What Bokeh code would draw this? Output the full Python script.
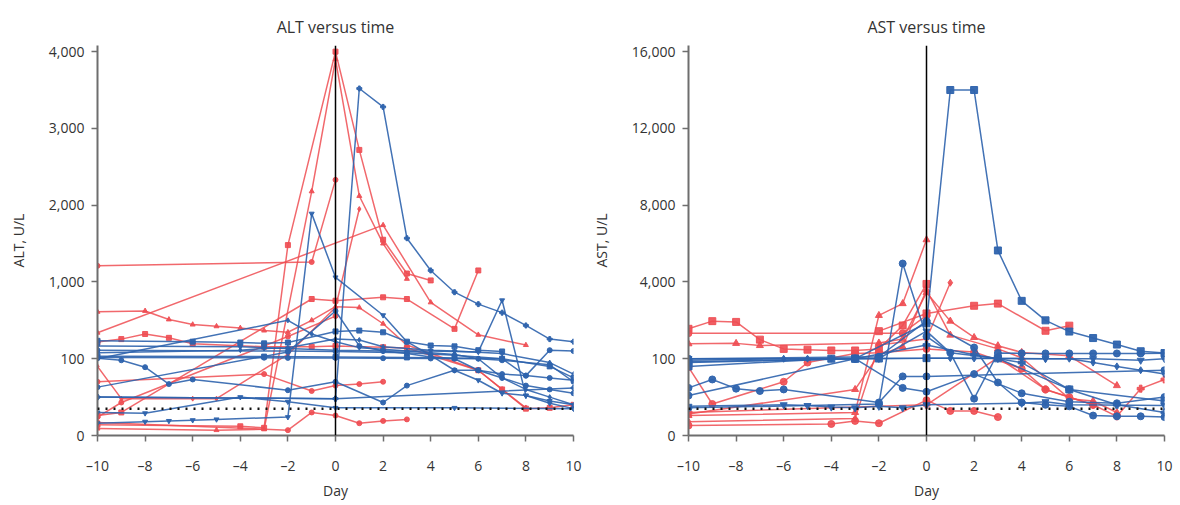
import numpy as np
from bokeh.plotting import figure
from bokeh.layouts import row
from bokeh.models import FixedTicker, Span
from bokeh.embed import file_html
from bokeh.resources import INLINE

# ---------------- data ----------------
DAY_TICKS = [-10, -8, -6, -4, -2, 0, 2, 4, 6, 8, 10]
DAY_LABELS = ["–10", "–8", "–6", "–4", "–2", "0", "2", "4", "6", "8", "10"]

ALT_TICKS = [0, 100, 1000, 2000, 3000, 4000]
ALT_LABELS = ["0", "100", "1,000", "2,000", "3,000", "4,000"]
AST_TICKS = [0, 100, 4000, 8000, 12000, 16000]
AST_LABELS = ["0", "100", "4,000", "8,000", "12,000", "16,000"]

# broken axis: value breakpoints and the axis segment index they sit on
ALT_BREAKS = [0, 100, 1000, 4000]
AST_BREAKS = [0, 100, 4000, 16000]
BREAK_POS = [0, 1, 2, 5]

ALT_ULN = 35
AST_ULN = 35

ALT_RED_DAYS = [
    [-10, -1, 0],
    [-10, -4, -3, -2, 0, 1, 2, 3, 4],
    [-10, -5, -3, -1, 0, 1, 2, 3],
    [-10, -9, -6, -5, -2, 0, 1],
    [-10, 2, 4, 6, 8],
    [-10, -8, -7, -6, -5, -4, -3, -2, -1, 0, 1, 2, 3, 6, 7, 8],
    [-10, -9, -8, -7, -6, -3, -1, 0, 2, 3, 6, 7, 8, 9, 10],
    [-10, -2, -1, 0, 1, 2, 3],
    [-10, -3, -1, 0, 1, 2],
    [-10, -9, -1, 0, 2, 3, 5, 6],
    [-10, -9, -2, 0],
]
ALT_RED_VALUES = [
    [1210, 1260, 2330],
    [14, 12, 10, 1480, 4030, 2720, 1550, 1110, 1020],
    [9, 7, 8, 2180, 3900, 2120, 1500, 1040],
    [90, 48, 48, 48, 150, 700, 1950],
    [405, 1740, 760, 380, 260],
    [650, 660, 560, 500, 480, 460, 430, 410, 550, 710, 700, 510, 260, 85, 60, 36],
    [296, 330, 390, 345, 276, 240, 240, 250, 235, 225, 85, 60, 35, 36, 40],
    [17, 7, 30, 26, 16, 19, 21],
    [70, 80, 58, 65, 67, 70],
    [26, 30, 800, 780, 820, 800, 450, 1150],
    [24, 43, 360, 600],
]

ALT_BLUE_DAYS = [
    [-10, 0, 1, 2, 3, 4, 5, 6, 7, 8, 9, 10],
    [-10, -8, -7, -6, -5, -2, -1, 0, 2, 3, 4, 5, 6, 7, 8, 9, 10],
    [-10, -2, 0, 1, 2, 3, 4, 5, 6, 7, 8, 9, 10],
    [-10, -6, -4, -3, -2, 0, 1, 2, 3, 4, 5, 6, 7],
    [-10, -4, -3, -2, 0, 2, 4, 5, 6, 7, 8, 9, 10],
    [-10, -2, 0, 3, 5, 7, 8, 9, 10],
    [-10, -2, -1, 0, 1, 2, 3, 4, 5, 6, 7, 8, 9, 10],
    [-10, -9, -8, -7, -6, -2, 0, 2, 3, 5, 6, 7, 8, 9, 10],
    [-10, -8, -4, -2, 0, 5, 10],
    [-10, 0, 10],
    [-10, -3, 0, 3, 5, 7, 9, 10],
    [-10, -3, -2, 0, 2, 4, 6, 7, 9, 10],
    [-10, -4, -3, -2, 0, 1, 2, 4, 5, 7, 9, 10],
]
ALT_BLUE_VALUES = [
    [50, 48, 3520, 3280, 1570, 1150, 880, 740, 640, 490, 330, 300],
    [16, 18, 19, 20, 21, 24, 1890, 1060, 610, 300, 140, 85, 72, 55, 52, 42, 35],
    [63, 180, 660, 250, 190, 160, 120, 100, 85, 75, 65, 60, 55],
    [310, 300, 290, 280, 290, 420, 430, 410, 300, 255, 245, 200, 185],
    [250, 240, 230, 220, 200, 190, 190, 185, 180, 785, 52, 45, 40],
    [200, 190, 185, 170, 140, 100, 78, 200, 190],
    [100, 550, 390, 300, 230, 210, 190, 170, 150, 100, 75, 60, 50, 40],
    [105, 98, 89, 67, 73, 59, 70, 43, 65, 85, 85, 80, 78, 75, 72],
    [30, 29, 50, 44, 36, 36, 35],
    [50, 48, 62],
    [130, 125, 120, 115, 110, 100, 90, 75],
    [115, 112, 110, 110, 106, 103, 100, 98, 92, 70],
    [170, 200, 220, 230, 330, 320, 240, 200, 190, 160, 95, 80],
]

AST_RED_DAYS = [
    [-10, -9, -8, -7, -6, -5, -4, -3, -2, -1, 0],
    [-10, -1, 0],
    [-10, -8, -7, -2, -1, 0, 1, 2, 3, 4, 6, 8],
    [-10, -3, -2, -1, 0],
    [-10, -4, -3, -2, 0, 1, 2, 3],
    [-10, -3, -2, 0, 1],
    [-10, -9, -6, -5, -3, -2, 0, 2, 4, 5, 6, 7],
    [-10, 0, 3, 5, 7, 8, 9, 10],
    [-2, 0, 2, 3, 5, 6],
    [-10, -3, -2, -1, 0, 1, 3, 4, 6, 7, 8],
]
AST_RED_VALUES = [
    [1620, 2010, 1970, 1070, 600, 560, 520, 520, 600, 1790, 3900],
    [1400, 1400, 2300],
    [860, 880, 770, 900, 1100, 3460, 2010, 1180, 760, 420, 250, 65],
    [26, 30, 2300, 2900, 6200],
    [13, 15, 19, 16, 46, 32, 32, 24],
    [18, 22, 800, 1100, 3960],
    [89, 41, 70, 95, 370, 400, 600, 440, 87, 60, 50, 40],
    [30, 40, 160, 60, 40, 25, 61, 73],
    [1500, 2400, 2790, 2900, 1520, 1780],
    [28, 60, 300, 700, 3600, 1300, 600, 150, 48, 45, 30],
]

AST_BLUE_DAYS = [
    [-10, -3, 0, 1, 2, 3, 4, 5, 6, 7, 8, 9, 10],
    [-10, -2, -1, 0, 1, 2, 3, 4, 5, 6, 7, 8, 9, 10],
    [-10, -2, 0, 2, 3, 4, 5, 6, 7, 8, 9, 10],
    [-10, -9, -8, -7, -6, -2, -1, 0, 10],
    [-10, -6, -5, -4, -3, -2, 0, 1, 2, 3, 4, 5, 6, 7, 8, 9, 10],
    [-10, -6, -5, -4, -3, -2, -1, 0, 4, 5, 6, 10],
    [-10, -3, -1, 0, 2, 4, 6, 8, 10],
    [-10, -4, -3, -2, 0, 3, 6, 10],
    [-10, -3, -2, 0, 1, 3, 5, 7, 9, 10],
    [-10, -3, 0, 2, 4, 6, 8, 10],
]
AST_BLUE_VALUES = [
    [95, 105, 1900, 14000, 14000, 5640, 3040, 2050, 1480, 1150, 820, 480, 390],
    [36, 41, 4960, 1230, 400, 48, 390, 375, 370, 370, 370, 370, 370, 375],
    [100, 200, 2020, 670, 69, 43, 40, 38, 26, 25, 25, 24],
    [62, 73, 61, 58, 60, 43, 77, 77, 85],
    [98, 100, 103, 105, 108, 110, 120, 130, 115, 110, 105, 103, 100, 95, 90, 85, 80],
    [38, 40, 39, 37, 36, 38, 36, 40, 42, 44, 40, 39],
    [52, 100, 62, 57, 80, 55, 44, 42, 50],
    [90, 100, 105, 110, 130, 120, 60, 45],
    [102, 108, 112, 1500, 400, 110, 105, 100, 98, 100],
    [96, 104, 800, 300, 95, 60, 40, 30],
]

# ---------------- style ----------------
RED = "#ee4d52"
BLUE = "#2e63ad"
ALT_RED_MARKERS = ["circle", "square", "triangle", "diamond", "triangle", "triangle",
                   "square", "circle", "circle", "square", "circle"]
ALT_BLUE_MARKERS = ["plus", "inverted_triangle", "circle", "square", "inverted_triangle", "circle",
                    "diamond", "circle", "inverted_triangle", "plus", "square", "circle", "diamond"]
AST_RED_MARKERS = ["square", "circle", "triangle", "triangle", "circle", "diamond",
                   "circle", "plus", "square", "triangle"]
AST_BLUE_MARKERS = ["square", "circle", "circle", "circle", "diamond", "inverted_triangle",
                    "circle", "square", "inverted_triangle", "plus"]
FONT = "Open Sans"
TXT = "#333333"


def make_panel(title, ylabel, ticks, labels, breaks, uln,
               red_d, red_v, red_m, blue_d, blue_v, blue_m, left_border, right_border, msize):
    def tf(v):
        return np.interp(np.asarray(v, dtype=float), breaks, BREAK_POS)

    p = figure(frame_width=476, frame_height=390, x_range=(-10, 10), y_range=(0, 5.08),
               output_backend="svg", toolbar_location=None,
               min_border_left=left_border, min_border_right=right_border,
               min_border_top=45, min_border_bottom=68)
    p.outline_line_color = None
    p.xgrid.visible = False
    p.ygrid.visible = False
    p.background_fill_color = "white"

    p.title.text = title
    p.title.align = "center"
    p.title.text_font = FONT
    p.title.text_font_size = "16px"
    p.title.text_font_style = "normal"
    p.title.text_color = TXT
    p.title.standoff = 16
    p.title.text_line_height = 1.0

    for d, v, m in zip(red_d, red_v, red_m):
        y = tf(v)
        p.line(d, y, line_color=RED, line_width=1.5, line_alpha=0.85)
        p.scatter(d, y, marker=m, size=msize, fill_color=RED, line_color=RED, alpha=0.9)
    for d, v, m in zip(blue_d, blue_v, blue_m):
        y = tf(v)
        p.line(d, y, line_color=BLUE, line_width=1.5, line_alpha=0.9)
        p.scatter(d, y, marker=m, size=msize, fill_color=BLUE, line_color=BLUE, alpha=0.95)

    p.add_layout(Span(location=0, dimension="height", line_color="black", line_width=1.5))
    p.add_layout(Span(location=float(tf(uln)), dimension="width", line_color="#111111",
                      line_width=2.5, line_dash="2 6"))

    pos = [int(round(float(t))) for t in tf(ticks)]
    p.yaxis.ticker = FixedTicker(ticks=pos)
    p.yaxis.major_label_overrides = {q: l for q, l in zip(pos, labels)}
    p.xaxis.ticker = FixedTicker(ticks=DAY_TICKS)
    p.xaxis.major_label_overrides = {t: l for t, l in zip(DAY_TICKS, DAY_LABELS)}
    p.xaxis.axis_label = "Day"
    p.yaxis.axis_label = ylabel

    for ax in (p.xaxis[0], p.yaxis[0]):
        ax.axis_line_color = "#6e6e6e"
        ax.axis_line_width = 2
        ax.major_tick_line_color = "#6e6e6e"
        ax.major_tick_line_width = 1.5
        ax.major_tick_out = 6
        ax.major_tick_in = 0
        ax.minor_tick_line_color = None
        ax.major_label_text_font = FONT
        ax.major_label_text_font_size = "14px"
        ax.major_label_text_color = TXT
        ax.axis_label_text_font = FONT
        ax.axis_label_text_font_size = "14px"
        ax.axis_label_text_font_style = "normal"
        ax.axis_label_text_color = TXT
    p.xaxis.major_label_standoff = 14
    p.xaxis.axis_label_standoff = 3
    p.yaxis.major_label_standoff = 7
    p.yaxis.axis_label_standoff = 18
    return p


p1 = make_panel("ALT versus time", "ALT, U/L", ALT_TICKS, ALT_LABELS, ALT_BREAKS, ALT_ULN,
                ALT_RED_DAYS, ALT_RED_VALUES, ALT_RED_MARKERS,
                ALT_BLUE_DAYS, ALT_BLUE_VALUES, ALT_BLUE_MARKERS,
                left_border=97, right_border=12, msize=5)
p2 = make_panel("AST versus time", "AST, U/L", AST_TICKS, AST_LABELS, AST_BREAKS, AST_ULN,
                AST_RED_DAYS, AST_RED_VALUES, AST_RED_MARKERS,
                AST_BLUE_DAYS, AST_BLUE_VALUES, AST_BLUE_MARKERS,
                left_border=103, right_border=9, msize=7)

layout = row(p1, p2)
open("out.html", "w").write(file_html(layout, INLINE))
